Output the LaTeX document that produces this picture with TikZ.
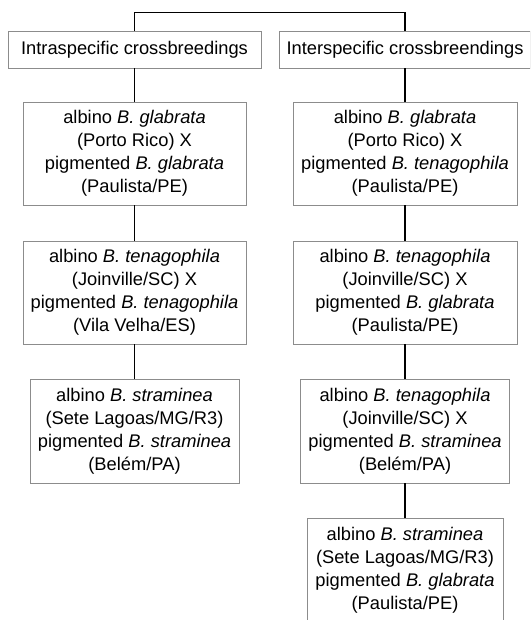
\documentclass[tikz,border=0pt]{standalone}
\usepackage{fontspec}
\setmainfont{Liberation Sans}
\usetikzlibrary{positioning}

\begin{document}
\begin{tikzpicture}[x=1pt,y=-1pt,
    box/.style={draw=black!45,line width=0.9pt,inner sep=0pt,align=center,
      font=\fontsize{18.3}{23}\selectfont},
    link/.style={draw=black,line width=1.3pt}]
    % page frame, the last box runs off the bottom
    \useasboundingbox (0,0) rectangle (530,620);
    \clip (0,0) rectangle (530,620);

    % headers
    \node[box,minimum width=253pt,minimum height=37pt] (intra) at (134.5,49.5) {Intraspecific crossbreedings};
    \node[box,minimum width=251pt,minimum height=37pt] (inter) at (405,49.5) {Interspecific crossbreendings};

    % intraspecific column
    \node[box,minimum width=223pt,minimum height=103pt] (a1) at (134.5,153.5)
        {albino \textit{B. glabrata}\\(Porto Rico) X\\pigmented \textit{B. glabrata}\\(Paulista/PE)};
    \node[box,minimum width=223pt,minimum height=103pt] (a2) at (134.5,292.5)
        {albino \textit{B. tenagophila}\\(Joinville/SC) X\\pigmented \textit{B. tenagophila}\\(Vila Velha/ES)};
    \node[box,minimum width=209pt,minimum height=104pt] (a3) at (134.5,431)
        {albino \textit{B. straminea}\\(Sete Lagoas/MG/R3)\\pigmented \textit{B. straminea}\\(Belém/PA)};

    % interspecific column
    \node[box,minimum width=224pt,minimum height=103pt] (b1) at (405,153.5)
        {albino \textit{B. glabrata}\\(Porto Rico) X\\pigmented \textit{B. tenagophila}\\(Paulista/PE)};
    \node[box,minimum width=224pt,minimum height=103pt] (b2) at (405,292.5)
        {albino \textit{B. tenagophila}\\(Joinville/SC) X\\pigmented \textit{B. glabrata}\\(Paulista/PE)};
    \node[box,minimum width=209pt,minimum height=104pt] (b3) at (405,431)
        {albino \textit{B. tenagophila}\\(Joinville/SC) X\\pigmented \textit{B. straminea}\\(Belém/PA)};
    \node[box,minimum width=196pt,minimum height=104pt] (b4) at (405,570)
        {albino \textit{B. straminea}\\(Sete Lagoas/MG/R3)\\pigmented \textit{B. glabrata}\\(Paulista/PE)};

    % connectors
    \draw[link] (intra.north) -- ++(0,-18) -| (inter.north);
    \draw[link] (intra.south) -- (a1.north);
    \draw[link] (a1.south) -- (a2.north);
    \draw[link] (a2.south) -- (a3.north);
    \draw[link] (inter.south) -- (b1.north);
    \draw[link] (b1.south) -- (b2.north);
    \draw[link] (b2.south) -- (b3.north);
    \draw[link] (b3.south) -- (b4.north);
\end{tikzpicture}
\end{document}
